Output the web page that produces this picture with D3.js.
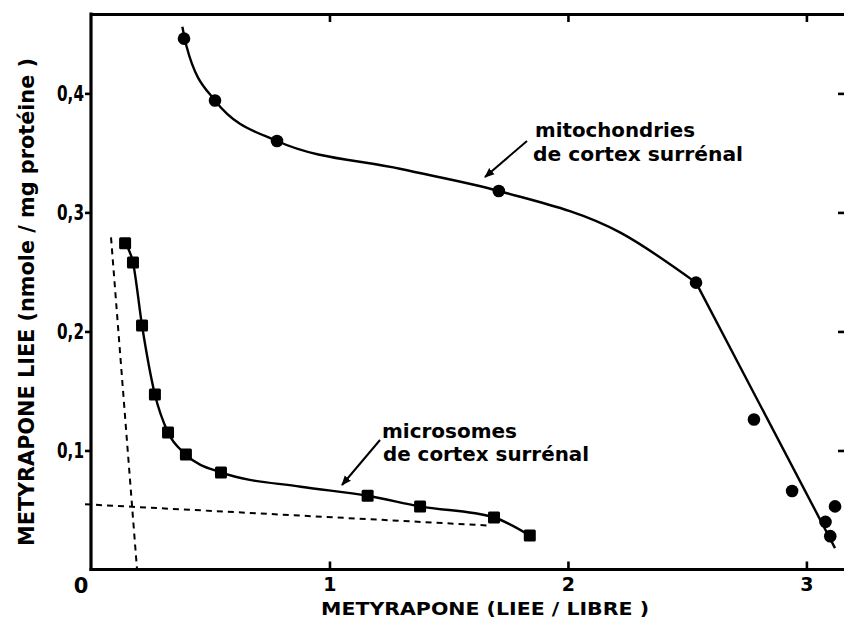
<!DOCTYPE html>
<html>
<head>
<meta charset="utf-8">
<script src="https://cdn.jsdelivr.net/npm/d3@7"></script>
<style>
  html, body { margin: 0; padding: 0; background: #fff; }
  svg { display: block; }
  text { font-family: "DejaVu Sans", "Liberation Sans", sans-serif; font-weight: bold; fill: #000; }
</style>
</head>
<body>
<svg id="chart" width="844" height="630"></svg>
<script>
// Scatchard plot: bound metyrapone vs bound/free ratio

// mitochondria of adrenal cortex (circles)
const mitoX = [0.39, 0.52, 0.78, 1.71, 2.537, 2.78, 2.94, 3.08, 3.10, 3.12];
const mitoY = [0.446, 0.394, 0.360, 0.318, 0.241, 0.126, 0.066, 0.040, 0.028, 0.053];
// hand-fitted curve through the mitochondria points
const mitoFitX = [0.383, 0.40, 0.52, 0.78, 1.30, 1.71, 2.22, 2.537];
const mitoFitY = [0.456, 0.440, 0.394, 0.360, 0.3365, 0.318, 0.283, 0.241];
// straight descending segment of the mitochondria fit
const mitoTailX = [2.537, 3.12];
const mitoTailY = [0.241, 0.018];

// microsomes of adrenal cortex (squares)
const microX = [0.143, 0.176, 0.214, 0.268, 0.323, 0.398, 0.545, 1.16, 1.38, 1.69, 1.84];
const microY = [0.274, 0.258, 0.205, 0.147, 0.115, 0.0966, 0.0815, 0.062, 0.053, 0.0437, 0.0286];
// hand-fitted curve through the microsome points
const microFitX = [0.143, 0.176, 0.214, 0.268, 0.323, 0.398, 0.545, 0.88, 1.16, 1.38, 1.69, 1.84];
const microFitY = [0.274, 0.258, 0.205, 0.147, 0.115, 0.0966, 0.0815, 0.0695, 0.062, 0.053, 0.0437, 0.0286];

// dashed asymptotes of the two binding sites
const steepX = [0.084, 0.193];
const steepY = [0.279, 0.0];
const flatX = [-0.025, 1.665];
const flatY = [0.0548, 0.037];

// tick values and labels
const xTicks = [1, 2, 3];
const yTicks = [0.1, 0.2, 0.3, 0.4];
const originLabel = "0";
const xTitle = "METYRAPONE (LIEE / LIBRE )";
const yTitle = "METYRAPONE LIEE (nmole / mg protéine )";
const mitoLabel = ["mitochondries", "de cortex surrénal"];
const microLabel = ["microsomes", "de cortex surrénal"];

const svg = d3.select("#chart");
const mLeft = 91, mRight = 846, mTop = 14, mBottom = 569.5;

const x = d3.scaleLinear().domain([0, 3.166]).range([mLeft, mRight]);
const y = d3.scaleLinear().domain([0, 0.4667]).range([mBottom, mTop]);

const fmt = d => String(d).replace(".", ",");

// bottom axis: inward ticks, labels below
const gx = svg.append("g").attr("transform", `translate(0,${mBottom})`)
  .call(d3.axisBottom(x).tickValues(xTicks).tickSize(-8).tickSizeOuter(0).tickPadding(8).tickFormat(d3.format("d")));
// left axis: outward ticks with decimal-comma labels
const gy = svg.append("g").attr("transform", `translate(${mLeft},0)`)
  .call(d3.axisLeft(y).tickValues(yTicks).tickSize(6).tickSizeOuter(0).tickPadding(1).tickFormat(fmt));
// top axis: ticks only
const gt = svg.append("g").attr("transform", `translate(0,${mTop})`)
  .call(d3.axisBottom(x).tickValues(xTicks).tickSize(8).tickSizeOuter(0).tickFormat(""));
// right axis: ticks only
const gr = svg.append("g").attr("transform", `translate(${mRight},0)`)
  .call(d3.axisLeft(y).tickValues(yTicks).tickSize(8).tickSizeOuter(0).tickFormat(""));

[gx, gy, gt, gr].forEach(g => {
  g.select(".domain").attr("stroke", "#000").attr("stroke-width", 3.2);
  g.selectAll(".tick line").attr("stroke", "#000").attr("stroke-width", 2.6);
  g.selectAll(".tick text").attr("font-family", "DejaVu Sans").attr("font-weight", "bold")
    .attr("font-size", 19).attr("fill", "#000");
});
gy.selectAll(".tick text").attr("font-size", 21)
  .attr("textLength", 27).attr("lengthAdjust", "spacingAndGlyphs");
gy.select(".domain").attr("d", `M0,${mTop - 1.5}V${mBottom + 1.5}`);
gx.select(".domain").attr("d", `M${mLeft - 1.5},0H${mRight}`);

svg.append("text").attr("x", 81).attr("y", 593).attr("text-anchor", "middle")
  .attr("font-size", 21).text(originLabel);

// axis titles
svg.append("text").attr("x", 485).attr("y", 615).attr("text-anchor", "middle")
  .attr("font-size", 18).attr("textLength", 328).attr("lengthAdjust", "spacingAndGlyphs").text(xTitle);
svg.append("text").attr("transform", "translate(34,302) rotate(-90)").attr("text-anchor", "middle")
  .attr("font-size", 22).attr("textLength", 488).attr("lengthAdjust", "spacingAndGlyphs").text(yTitle);

const pts = (xs, ys) => xs.map((v, i) => [v, ys[i]]);
const smooth = d3.line().x(d => x(d[0])).y(d => y(d[1])).curve(d3.curveMonotoneX);
const straight = d3.line().x(d => x(d[0])).y(d => y(d[1]));

// dashed asymptotes
[[steepX, steepY], [flatX, flatY]].forEach(([xs, ys]) => {
  svg.append("path").attr("d", straight(pts(xs, ys))).attr("fill", "none")
    .attr("stroke", "#000").attr("stroke-width", 2).attr("stroke-dasharray", "6,5");
});

// fitted curves
svg.append("path").attr("d", smooth(pts(mitoFitX, mitoFitY))).attr("fill", "none")
  .attr("stroke", "#000").attr("stroke-width", 2.4);
svg.append("path").attr("d", straight(pts(mitoTailX, mitoTailY))).attr("fill", "none")
  .attr("stroke", "#000").attr("stroke-width", 2.4);
svg.append("path").attr("d", smooth(pts(microFitX, microFitY))).attr("fill", "none")
  .attr("stroke", "#000").attr("stroke-width", 2.4);

// data markers
svg.append("g").selectAll("circle").data(pts(mitoX, mitoY)).join("circle")
  .attr("cx", d => x(d[0])).attr("cy", d => y(d[1])).attr("r", 6.3).attr("fill", "#000");
const sq = 12;
svg.append("g").selectAll("rect").data(pts(microX, microY)).join("rect")
  .attr("x", d => x(d[0]) - sq / 2).attr("y", d => y(d[1]) - sq / 2)
  .attr("width", sq).attr("height", sq).attr("rx", 1.5).attr("fill", "#000");

// annotations with arrows
svg.append("defs").append("marker").attr("id", "head").attr("viewBox", "0 0 10 10")
  .attr("refX", 9).attr("refY", 5).attr("markerWidth", 5).attr("markerHeight", 5)
  .attr("markerUnits", "strokeWidth").attr("orient", "auto")
  .append("path").attr("d", "M0,1 L10,5 L0,9 Z").attr("fill", "#000");

function note(lines, tx, ty, widths, arrow) {
  lines.forEach((t, i) => {
    svg.append("text").attr("x", tx[i]).attr("y", ty[i]).attr("font-size", 19)
      .attr("textLength", widths[i]).attr("lengthAdjust", "spacingAndGlyphs").text(t);
  });
  svg.append("line").attr("x1", arrow[0]).attr("y1", arrow[1]).attr("x2", arrow[2]).attr("y2", arrow[3])
    .attr("stroke", "#000").attr("stroke-width", 2).attr("marker-end", "url(#head)");
}
note(mitoLabel, [535, 533], [137, 161], [160, 210], [527, 141, 485, 177]);
note(microLabel, [382, 383], [438, 461], [135, 206], [380, 440, 342, 485]);
</script>
</body>
</html>
